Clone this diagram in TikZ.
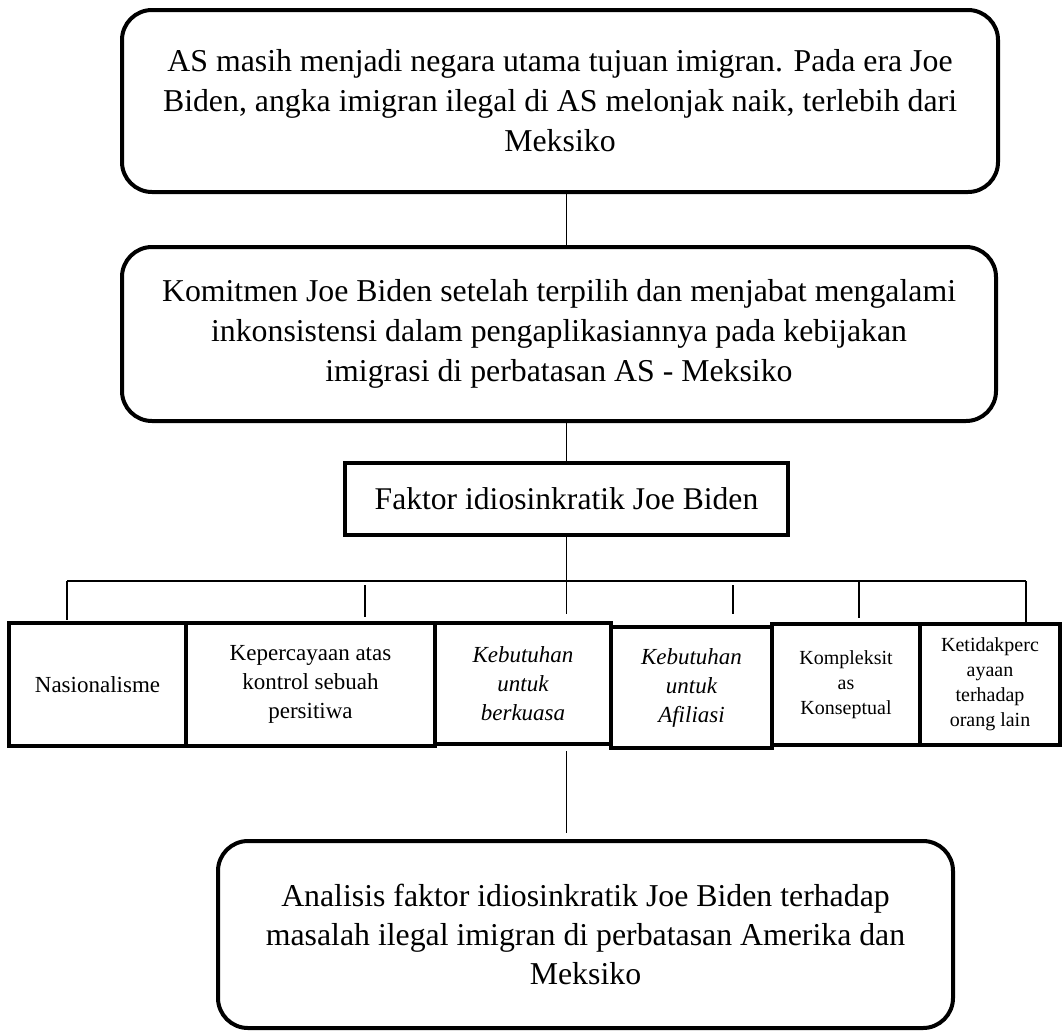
\documentclass[tikz,border=0pt]{standalone}
\usepackage{fontspec}
\setmainfont{Liberation Serif}
\begin{document}
\begin{tikzpicture}[x=1pt,y=-1pt,
  bigbox/.style={draw, line width=4pt, rounded corners=30pt, inner sep=0pt, outer sep=0pt, align=center, font=\fontsize{31.8}{40}\selectfont},
  plainbox/.style={draw, line width=4pt, inner sep=0pt, outer sep=0pt, align=center, font=\fontsize{31.6}{33}\selectfont},
  factor/.style={draw, line width=4.5pt, inner sep=0pt, outer sep=0pt, align=center, font=\fontsize{23}{29}\selectfont},
  smallfactor/.style={factor, font=\fontsize{20}{25}\selectfont},
  conn/.style={line width=1.5pt}]
\useasboundingbox (0,0) rectangle (1062,1031);
\node[bigbox, minimum width=876pt, minimum height=182pt] (top) at (560,101)
  {AS masih menjadi negara utama tujuan imigran. Pada era Joe\\Biden, angka imigran ilegal di AS melonjak naik, terlebih dari\\Meksiko};
\node[bigbox, minimum width=874pt, minimum height=174pt] (mid) at (559,334)
  {Komitmen Joe Biden setelah terpilih dan menjabat mengalami\\inkonsistensi dalam pengaplikasiannya pada kebijakan\\imigrasi di perbatasan AS - Meksiko};
\node[plainbox, minimum width=443pt, minimum height=72pt] (faktor) at (566.5,499)
  {Faktor idiosinkratik Joe Biden};
\node[factor, minimum width=177pt, minimum height=123pt] (b1) at (97.5,684.5) {Nasionalisme};
\node[factor, minimum width=249pt, minimum height=123pt] (b2) at (310.5,684.5) {Kepercayaan atas\\kontrol sebuah\\persitiwa};
\node[factor, minimum width=176pt, minimum height=121pt] (b3) at (523,683.5) {\itshape Kebutuhan\\\itshape untuk\\\itshape berkuasa};
\node[factor, minimum width=161pt, minimum height=121pt] (b4) at (691.5,687.5) {\itshape Kebutuhan\\\itshape untuk\\\itshape Afiliasi};
\node[smallfactor, minimum width=148pt, minimum height=121pt] (b5) at (846,684.5) {Kompleksit\\as\\Konseptual};
\node[smallfactor, minimum width=140pt, minimum height=121pt] (b6) at (990,684.5) {Ketidakperc\\ayaan\\terhadap\\orang lain};
\node[bigbox, minimum width=735pt, minimum height=187pt, font=\fontsize{31.8}{39}\selectfont] (bot) at (585.5,934.5)
  {Analisis faktor idiosinkratik Joe Biden terhadap\\masalah ilegal imigran di perbatasan Amerika dan\\Meksiko};
% connectors
\draw[conn] (top.south -| faktor.north) -- (mid.north -| faktor.north);
\draw[conn] (mid.south -| faktor.north) -- (faktor.north);
\draw[conn] (faktor.south) -- ([yshift=9pt]faktor.south |- b3.north);
\coordinate (bL) at (67,581);
\coordinate (bR) at (1026,581);
\coordinate (t2) at (365,585);
\coordinate (t4) at (733,585);
\coordinate (t5) at (859,581);
\draw[conn] (bL) -- (bR);
\draw[conn] (bL) -- ([yshift=3pt]bL |- b1.north);
\draw[conn] (t2) -- ([yshift=6pt]t2 |- b2.north);
\draw[conn] (t4) -- ([yshift=13pt]t4 |- b4.north);
\draw[conn] (t5) -- ([yshift=6pt]t5 |- b5.north);
\draw[conn] (bR) -- (bR |- b6.north);
\draw[conn] ([yshift=-7pt]b3.south -| faktor.south) -- ([yshift=8pt]bot.north -| faktor.south);
\end{tikzpicture}
\end{document}
